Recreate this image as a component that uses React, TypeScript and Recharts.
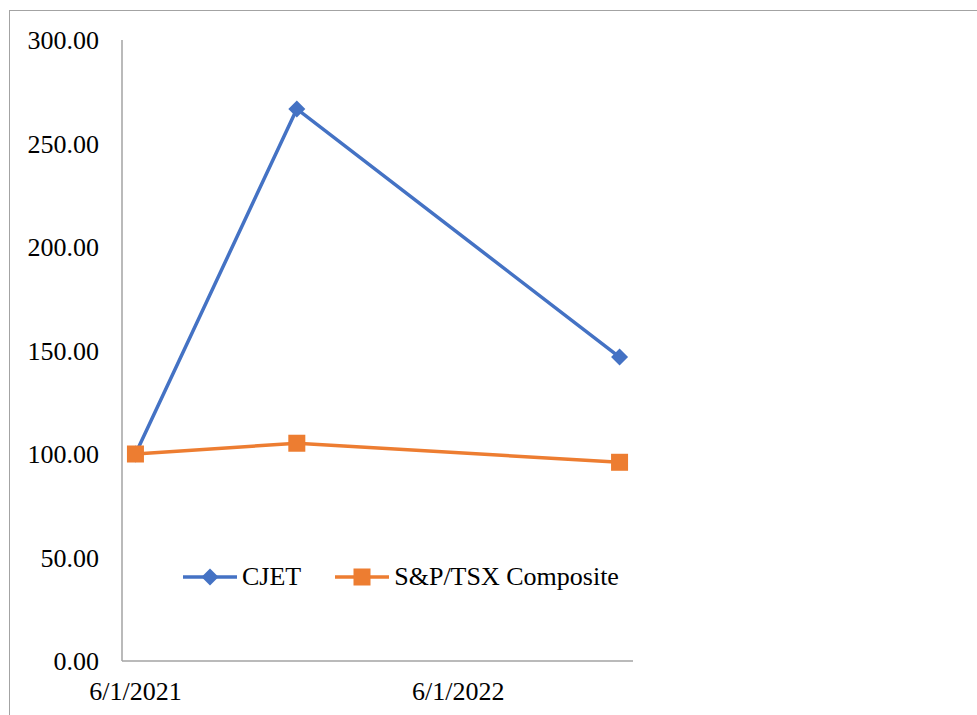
import { LineChart, Line, XAxis, YAxis, Legend } from "recharts";

const dates = ["6/1/2021", "12/1/2021", "12/1/2022"];
const cjet = [100.0, 266.7, 146.8];
const tsx = [100.0, 105.2, 96.0];
const xTickLabels = ["6/1/2021", "6/1/2022"];
const yTicks = [0, 50, 100, 150, 200, 250, 300];

const BLUE = "#4472C4";
const ORANGE = "#ED7D31";
const AXIS = "#a3a3a3";
const FONT = "'Liberation Serif', 'Times New Roman', serif";

// month offset from the first date, so the axis behaves like Excel's monthly date axis
const monthIndex = (d: string) => {
    const [m, , y] = d.split("/").map(Number);
    const [m0, , y0] = dates[0].split("/").map(Number);
    return (y - y0) * 12 + (m - m0);
};

const data = dates.map((d, i) => ({ m: monthIndex(d), cjet: cjet[i], tsx: tsx[i] }));
const xTicks = xTickLabels.map(monthIndex);
const lastMonth = monthIndex(dates[dates.length - 1]);

const Diamond = (props: any) => {
    const { cx, cy, fill } = props;
    const r = 8.5;
    return <polygon points={`${cx},${cy - r} ${cx + r},${cy} ${cx},${cy + r} ${cx - r},${cy}`} fill={fill} />;
};

const Square = (props: any) => {
    const { cx, cy, fill } = props;
    return <rect x={cx - 8.5} y={cy - 8.5} width={17} height={17} fill={fill} />;
};

const series = [
    { key: "cjet", name: "CJET", color: BLUE, Marker: Diamond },
    { key: "tsx", name: "S&P/TSX Composite", color: ORANGE, Marker: Square },
];

const LegendContent = () => (
    <div style={{ display: "flex", alignItems: "center", fontFamily: FONT, fontSize: 26, color: "#000" }}>
        {series.map((s, i) => (
            <div key={s.key} style={{ display: "flex", alignItems: "center", marginLeft: i ? 34 : 0 }}>
                <svg width={54} height={20}>
                    <line x1={0} y1={10} x2={54} y2={10} stroke={s.color} strokeWidth={3.5} />
                    <s.Marker cx={27} cy={10} fill={s.color} />
                </svg>
                <span style={{ marginLeft: 5, lineHeight: "30px" }}>{s.name}</span>
            </div>
        ))}
    </div>
);

export default function App() {
    return (
        <div style={{ position: "absolute", left: 0, top: 0, width: 977, height: 715, background: "#fff" }}>
            <div style={{ position: "absolute", left: 9, top: 10, width: 1, height: 705, background: AXIS }} />
            <div style={{ position: "absolute", left: 9, top: 10, width: 968, height: 1, background: AXIS }} />
            <LineChart
                width={977}
                height={715}
                data={data}
                margin={{ top: 40, right: 344, left: 0, bottom: 0 }}
                style={{ position: "absolute", left: 0, top: 0 }}
            >
                <XAxis
                    dataKey="m"
                    type="number"
                    domain={[-0.5, lastMonth + 0.5]}
                    ticks={xTicks}
                    tickFormatter={(v: number) => xTickLabels[xTicks.indexOf(v)] ?? ""}
                    height={54}
                    tickLine={false}
                    tickSize={0}
                    tickMargin={21}
                    axisLine={{ stroke: AXIS, strokeWidth: 1.5 }}
                    tick={{ fill: "#000", fontFamily: FONT, fontSize: 26 }}
                />
                <YAxis
                    domain={[0, 300]}
                    ticks={yTicks}
                    width={122}
                    tickLine={false}
                    tickSize={0}
                    tickMargin={23}
                    tickFormatter={(v: number) => v.toFixed(2)}
                    axisLine={{ stroke: AXIS, strokeWidth: 1.5 }}
                    tick={{ fill: "#000", fontFamily: FONT, fontSize: 26 }}
                />
                <Legend
                    layout="horizontal"
                    verticalAlign="middle"
                    align="center"
                    content={<LegendContent />}
                    wrapperStyle={{ left: 183, top: 562, width: "auto" }}
                />
                {series.map((s) => (
                    <Line
                        key={s.key}
                        type="linear"
                        dataKey={s.key}
                        name={s.name}
                        stroke={s.color}
                        strokeWidth={3.5}
                        dot={<s.Marker fill={s.color} />}
                        activeDot={false}
                        isAnimationActive={false}
                    />
                ))}
            </LineChart>
        </div>
    );
}
